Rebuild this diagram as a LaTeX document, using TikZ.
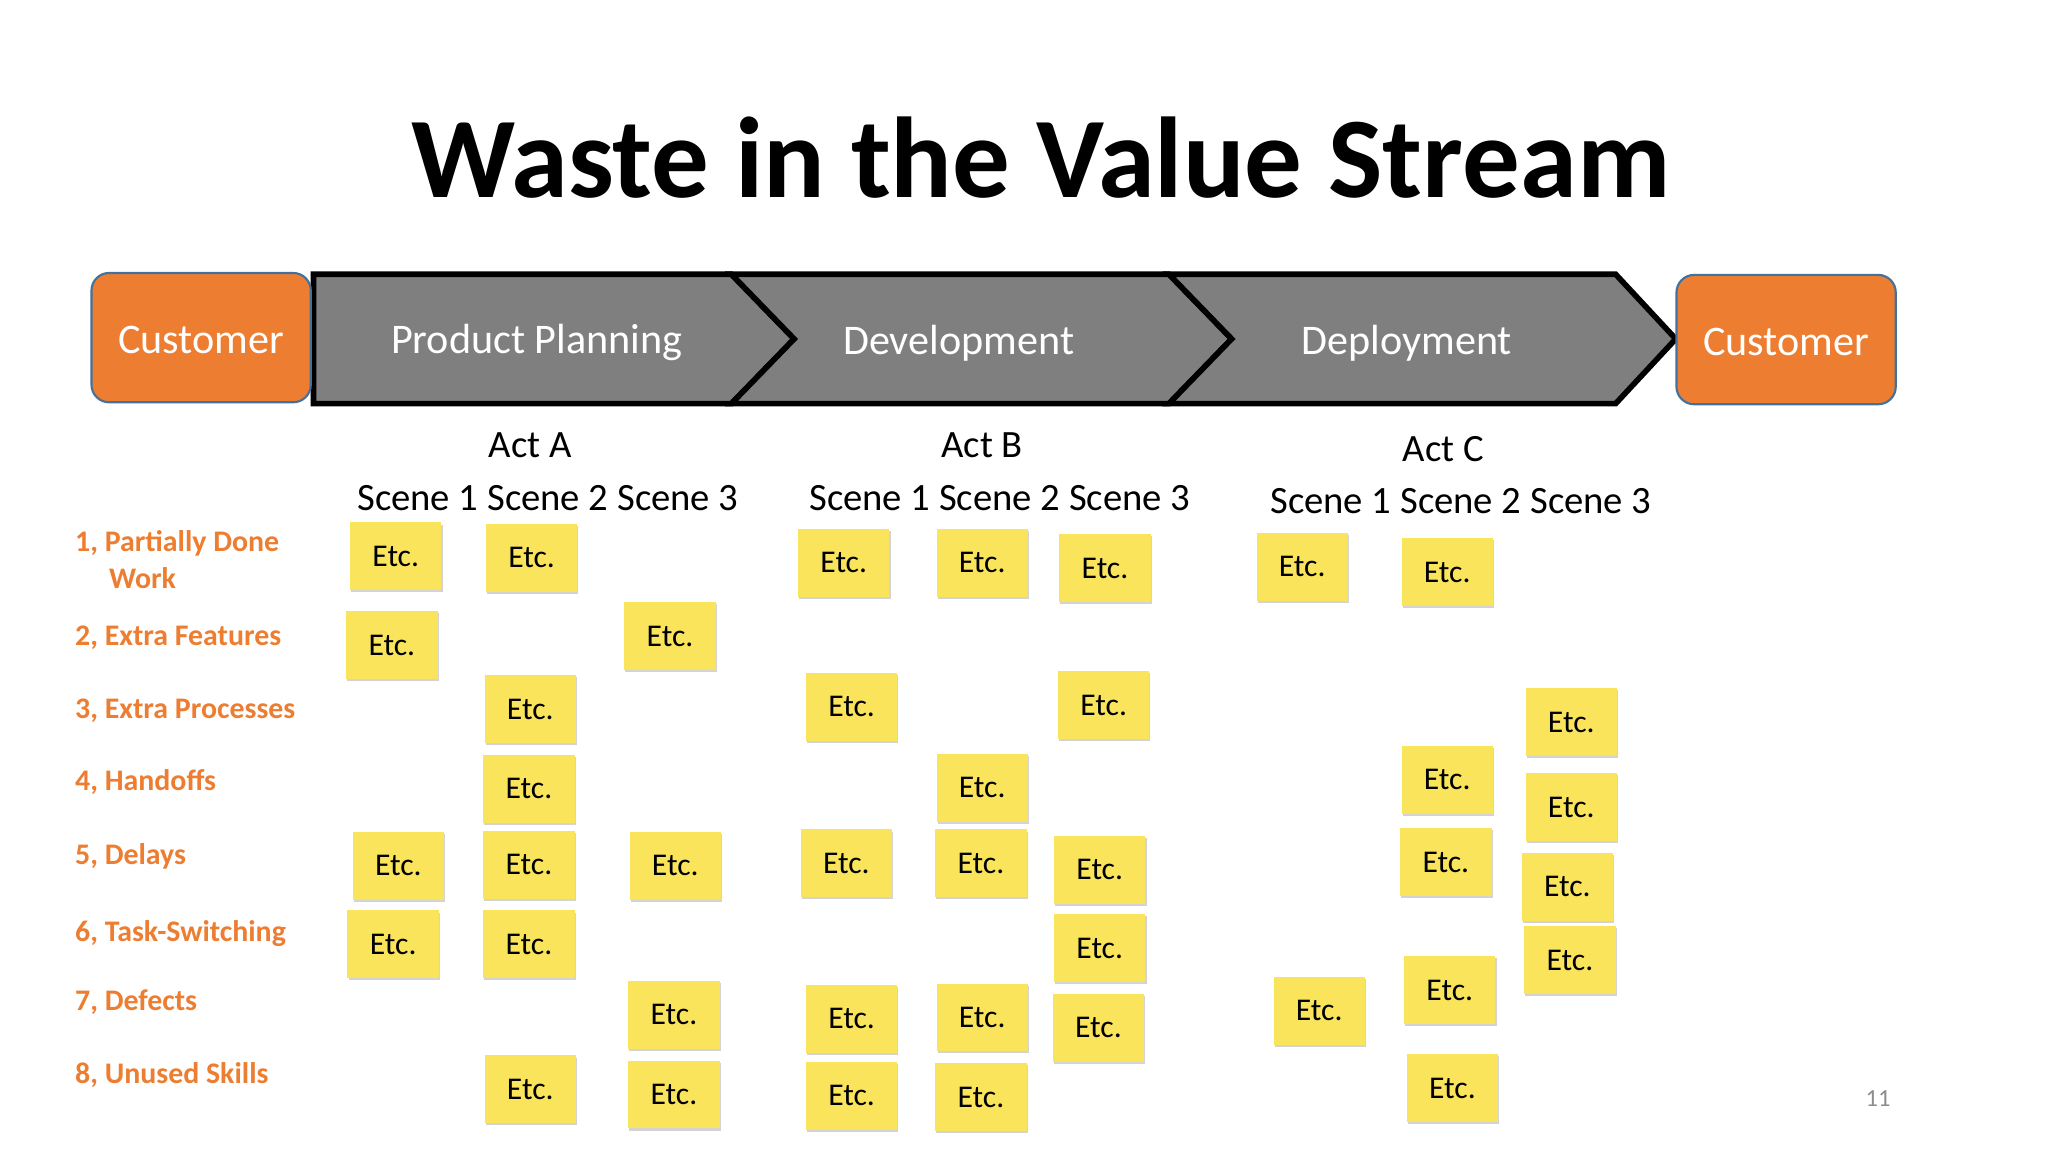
\documentclass[tikz,border=0pt]{standalone}
\usepackage{fontspec}
\setmainfont{Carlito}
\usetikzlibrary{shadows}
\definecolor{custorange}{HTML}{ED7D31}
\definecolor{custedge}{HTML}{41719C}
\definecolor{stagegray}{HTML}{7F7F7F}
\definecolor{noteyellow}{HTML}{F9E45C}
\definecolor{pagegray}{HTML}{8C8C8C}
\tikzset{
	cust/.style={draw=custedge, line width=0.6pt, fill=custorange, rounded corners=5pt,
		minimum width=62.4pt, minimum height=36.8pt, text=white, text height=9pt,
		font=\fontsize{12}{14}\selectfont},
	stage/.style={draw=black, fill=stagegray, line width=1.6pt, line join=miter},
	stagetxt/.style={text=white, font=\fontsize{12}{14}\selectfont},
	acttxt/.style={font=\fontsize{11}{13}\selectfont},
	waste/.style={anchor=west, text=custorange, inner sep=0pt, font=\fontsize{8.5}{10}\selectfont\bfseries},
	note/.style={fill=noteyellow, minimum width=26pt, minimum height=19.3pt, inner sep=0pt,
		drop shadow={shadow xshift=0.3pt, shadow yshift=-0.6pt, opacity=0.35},
		font=\fontsize{9}{10}\selectfont}
}
\begin{document}
\begin{tikzpicture}[x=0.01306cm, y=-0.01306cm]
		\useasboundingbox (0,0) rectangle (1568,882);
		\node (title) at (797,121) {\fontsize{32.7}{38}\selectfont\bfseries Waste in the Value Stream};
		% value stream
		\draw[stage] (240,210) -- (560,210) -- (608,259.5) -- (560,309) -- (240,309) -- cycle;
		\draw[stage] (560,210) -- (895,210) -- (943,259.5) -- (895,309) -- (560,309) -- (608,259.5) -- cycle;
		\draw[stage] (895,210) -- (1237,210) -- (1283,259.5) -- (1237,309) -- (895,309) -- (943,259.5) -- cycle;
		\node[cust] (custin) at (154,258.5) {Customer};
		\node[cust] (custout) at (1367.5,260) {Customer};
		\node[stagetxt] (plan) at (411,262.5) {Product Planning};
		\node[stagetxt] (dev) at (734,262.5) {Development};
		\node[stagetxt] (dep) at (1077,262.5) {Deployment};
		% acts and scenes
		\node[acttxt] (acta) at (406,341) {Act A};
		\node[acttxt] (actb) at (752,341) {Act B};
		\node[acttxt] (actc) at (1105,344) {Act C};
		\node[acttxt] (scna) at (419.5,381) {Scene 1 Scene 2 Scene 3};
		\node[acttxt] (scnb) at (765.5,381) {Scene 1 Scene 2 Scene 3};
		\node[acttxt] (scnc) at (1118.5,384) {Scene 1 Scene 2 Scene 3};
		% kinds of waste
		\node[waste] (w1) at (57,416) {1, Partially Done};
		\node[waste] (w1b) at (83,443) {Work};
		\node[waste] (w2) at (57,488) {2, Extra Features};
		\node[waste] (w3) at (57,544) {3, Extra Processes};
		\node[waste] (w4) at (57,599) {4, Handoffs};
		\node[waste] (w5) at (57,656) {5, Delays};
		\node[waste] (w6) at (57,715) {6, Task-Switching};
		\node[waste] (w7) at (57,767) {7, Defects};
		\node[waste] (w8) at (57,823) {8, Unused Skills};
		% sticky notes
		\foreach \x/\y [count=\i] in {303/426,407/427,300/494,513/487,406/543,405/604,305/663,405/662,
			517/663,301/723,405/723,516/777,406/834,516/838}
			\node[note] (na\i) at (\x,\y) {Etc.};
		\foreach \x/\y [count=\i] in {646/431,752/431,846/435,652/541,845/540,752/603,648/661,751/661,
			842/666,842/726,652/780,752/779,841/787,652/839,751/840}
			\node[note] (nb\i) at (\x,\y) {Etc.};
		\foreach \x/\y [count=\i] in {997/434,1108/438,1203/553,1108/597,1203/618,1107/660,1200/679,
			1202/735,1010/774,1110/758,1112/833}
			\node[note] (nc\i) at (\x,\y) {Etc.};
		\node[text=pagegray, font=\fontsize{7}{8}\selectfont] (page) at (1438,841) {11};
\end{tikzpicture}
\end{document}
